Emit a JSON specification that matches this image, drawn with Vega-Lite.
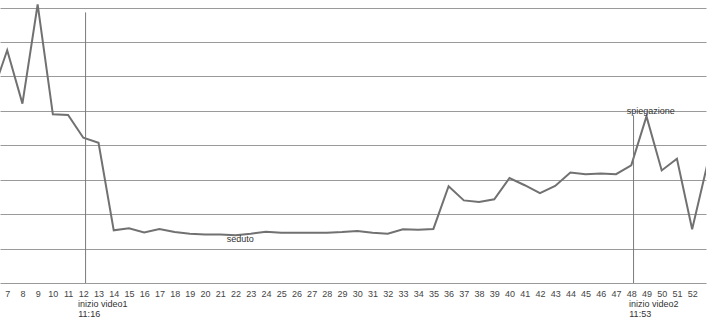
{
  "$schema": "https://vega.github.io/schema/vega-lite/v6.json",
  "autosize": {"type": "none"},
  "width": 706,
  "height": 283,
  "padding": {"left": 0, "top": 0, "right": 16, "bottom": 40},
  "background": "white",
  "config": {"view": {"stroke": null}, "font": "Liberation Sans"},
  "datasets": {
    "series": [
      {"t": 6, "v": 5.47}, {"t": 7, "v": 6.76}, {"t": 8, "v": 5.21}, {"t": 9, "v": 8.09},
      {"t": 10, "v": 4.90}, {"t": 11, "v": 4.88}, {"t": 12, "v": 4.22}, {"t": 13, "v": 4.07},
      {"t": 14, "v": 1.53}, {"t": 15, "v": 1.59}, {"t": 16, "v": 1.47}, {"t": 17, "v": 1.57},
      {"t": 18, "v": 1.48}, {"t": 19, "v": 1.43}, {"t": 20, "v": 1.41}, {"t": 21, "v": 1.41},
      {"t": 22, "v": 1.39}, {"t": 23, "v": 1.43}, {"t": 24, "v": 1.49}, {"t": 25, "v": 1.46},
      {"t": 26, "v": 1.46}, {"t": 27, "v": 1.46}, {"t": 28, "v": 1.46}, {"t": 29, "v": 1.48},
      {"t": 30, "v": 1.51}, {"t": 31, "v": 1.46}, {"t": 32, "v": 1.43}, {"t": 33, "v": 1.56},
      {"t": 34, "v": 1.55}, {"t": 35, "v": 1.57}, {"t": 36, "v": 2.81}, {"t": 37, "v": 2.40},
      {"t": 38, "v": 2.35}, {"t": 39, "v": 2.43}, {"t": 40, "v": 3.05}, {"t": 41, "v": 2.84},
      {"t": 42, "v": 2.61}, {"t": 43, "v": 2.82}, {"t": 44, "v": 3.21}, {"t": 45, "v": 3.16},
      {"t": 46, "v": 3.18}, {"t": 47, "v": 3.16}, {"t": 48, "v": 3.42}, {"t": 49, "v": 4.84},
      {"t": 50, "v": 3.27}, {"t": 51, "v": 3.61}, {"t": 52, "v": 1.56}, {"t": 53, "v": 3.45}
    ],
    "markers": [
      {"t": 12.15, "v": 7.86, "v2": 0},
      {"t": 48.15, "v": 4.87, "v2": 0}
    ],
    "notes": [
      {"t": 11.65, "v": -0.62, "label": "inizio video1"},
      {"t": 11.67, "v": -0.91, "label": "11:16"},
      {"t": 47.85, "v": -0.62, "label": "inizio video2"},
      {"t": 47.87, "v": -0.91, "label": "11:53"},
      {"t": 21.42, "v": 1.27, "label": "seduto"},
      {"t": 47.70, "v": 4.99, "label": "spiegazione"}
    ]
  },
  "encoding": {
    "x": {
      "field": "t", "type": "quantitative",
      "scale": {"domain": [6.527, 52.91], "nice": false, "zero": false},
      "axis": {
        "title": null, "grid": false, "ticks": false, "domain": false,
        "values": [7,8,9,10,11,12,13,14,15,16,17,18,19,20,21,22,23,24,25,26,27,28,29,30,31,32,33,34,35,36,37,38,39,40,41,42,43,44,45,46,47,48,49,50,51,52,53],
        "labelFontSize": 9, "labelColor": "#444", "labelPadding": 6,
        "labelOverlap": false, "labelFlush": false, "labelBound": false
      }
    },
    "y": {
      "field": "v", "type": "quantitative",
      "scale": {"domain": [0, 8.22], "nice": false, "zero": true},
      "axis": {
        "title": null, "labels": false, "ticks": false, "domain": false,
        "grid": true, "values": [0,1,2,3,4,5,6,7,8],
        "gridColor": "#9a9a9a", "gridWidth": 1, "gridOpacity": 1
      }
    }
  },
  "layer": [
    {
      "data": {"name": "series"},
      "mark": {"type": "line", "color": "#717171", "strokeWidth": 2, "clip": true}
    },
    {
      "data": {"name": "markers"},
      "mark": {"type": "rule", "color": "#7a7a7a", "strokeWidth": 1},
      "encoding": {
        "y2": {"field": "v2"}
      }
    },
    {
      "data": {"name": "notes"},
      "mark": {"type": "text", "align": "left", "baseline": "middle", "fontSize": 9, "color": "#333"},
      "encoding": {
        "text": {"field": "label"}
      }
    }
  ]
}
